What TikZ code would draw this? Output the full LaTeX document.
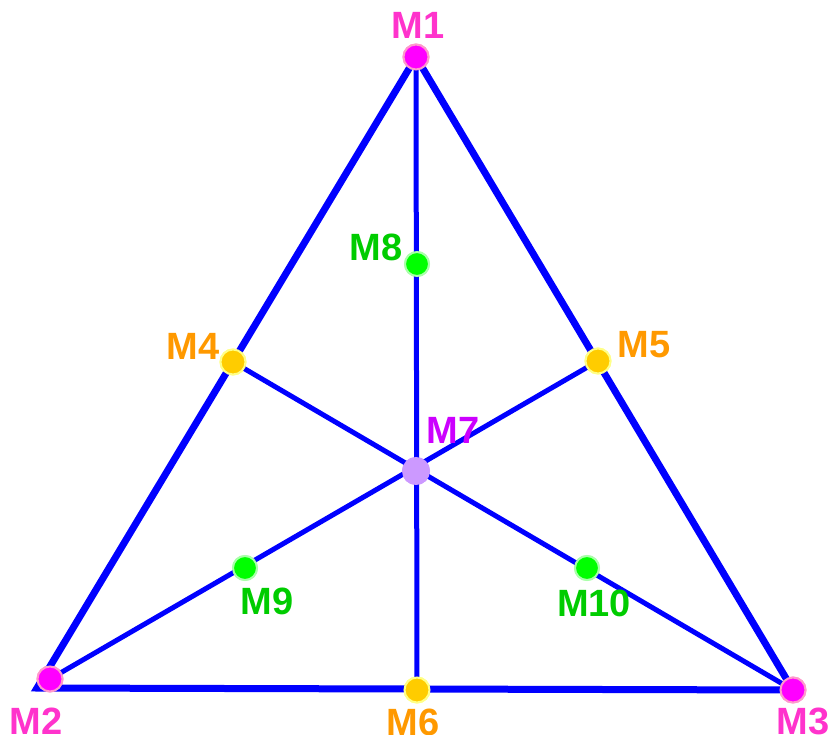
\documentclass[tikz,border=0pt]{standalone}
\usepackage{fontspec}
\setmainfont{Liberation Sans}
\definecolor{lineblue}{HTML}{0000FF}
\definecolor{magdot}{HTML}{FF00FF}
\definecolor{magring}{HTML}{FF99CC}
\definecolor{maglab}{HTML}{FF33CC}
\definecolor{ordot}{HTML}{FFCC00}
\definecolor{orring}{HTML}{FFFF88}
\definecolor{orlab}{HTML}{FF9900}
\definecolor{grdot}{HTML}{00FF00}
\definecolor{grring}{HTML}{AAFFAA}
\definecolor{grlab}{HTML}{00CC00}
\definecolor{pudot}{HTML}{CC99FF}
\definecolor{pulab}{HTML}{CC00FF}
\begin{document}
\begin{tikzpicture}[x=1pt,y=-1pt,
  outer/.style={draw=lineblue,line width=7pt},
  inner/.style={draw=lineblue,line width=5pt},
  dot/.style={circle,inner sep=0pt,minimum size=25pt,line width=2pt},
  magd/.style={dot,fill=magdot,draw=magring},
  ord/.style={dot,fill=ordot,draw=orring},
  grd/.style={dot,fill=grdot,draw=grring,minimum size=24pt},
  pud/.style={dot,fill=pudot,draw=pudot,minimum size=26pt},
  lab/.style={font=\bfseries\fontsize{38}{38}\selectfont,inner sep=0pt}]
\useasboundingbox (0,0) rectangle (830,735);
\coordinate (B) at (37,688);
\coordinate (Cc) at (793,690);
\node[magd] (m1) at (416,57) {};
\node[magd] (m2) at (50,679) {};
\node[magd] (m3) at (793,690) {};
\node[ord] (m4) at (233,362) {};
\node[ord] (m5) at (598,361) {};
\node[ord] (m6) at (417,690) {};
\node[pud] (m7) at (416,471) {};
\node[grd] (m8) at (417,264) {};
\node[grd] (m9) at (245,568) {};
\node[grd] (m10) at (587,568) {};
% lines
\path[inner] (m1.center) -- (m6.center);
\path[inner] (m4.center) -- (m3.center);
\path[inner] (m2.center) -- (m5.center);
\path[outer,line join=miter] (m1.center) -- (B) -- (Cc) -- cycle;
% dots on top of the lines
\node[magd] at (m1) {};
\node[magd] at (m2) {};
\node[magd] at (m3) {};
\node[ord] at (m4) {};
\node[ord] at (m5) {};
\node[ord] at (m6) {};
\node[pud] at (m7) {};
\node[grd] at (m8) {};
\node[grd] at (m9) {};
\node[grd] at (m10) {};
% labels
\node[lab,text=maglab] (l1) at (418,25) {M1};
\node[lab,text=maglab] (l2) at (36,721) {M2};
\node[lab,text=maglab] (l3) at (803,721) {M3};
\node[lab,text=orlab] (l4) at (193,346) {M4};
\node[lab,text=orlab] (l5) at (644,345) {M5};
\node[lab,text=orlab] (l6) at (413,722) {M6};
\node[lab,text=pulab] (l7) at (453,430) {M7};
\node[lab,text=grlab] (l8) at (376,247) {M8};
\node[lab,text=grlab] (l9) at (267,601) {M9};
\node[lab,text=grlab] (l10) at (594,603) {M10};
\end{tikzpicture}
\end{document}
